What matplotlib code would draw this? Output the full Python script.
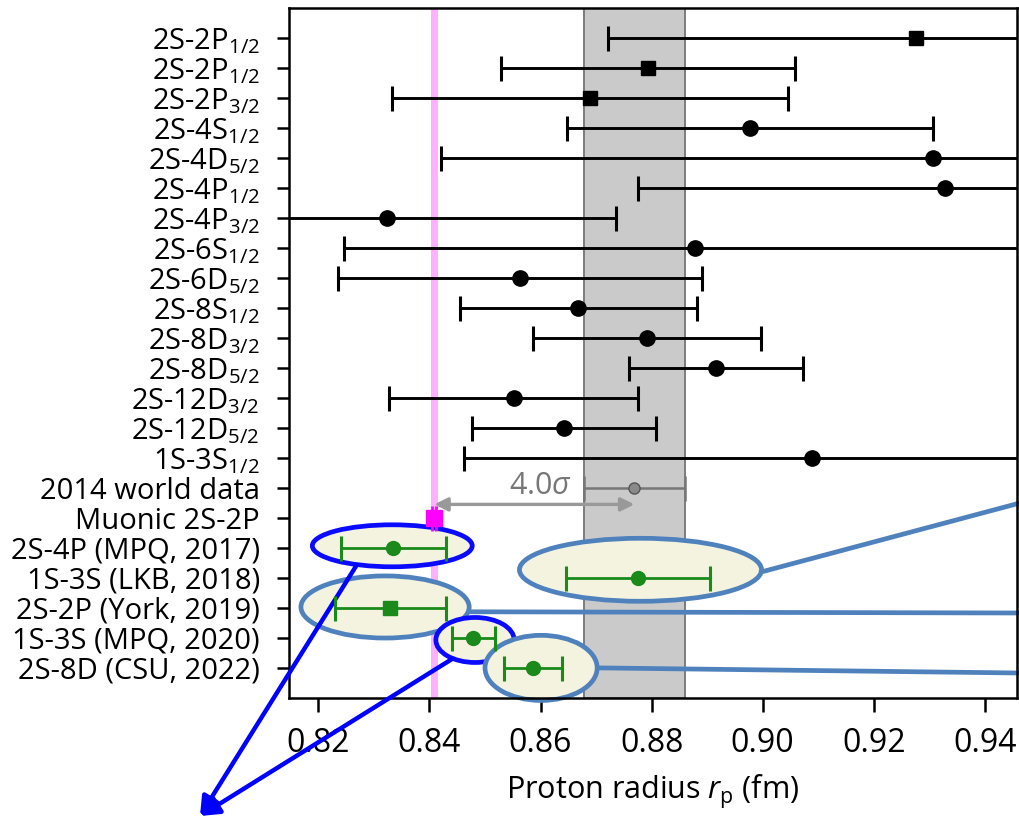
import numpy as np
import matplotlib
matplotlib.use('Agg')
import matplotlib.pyplot as plt
from matplotlib.patches import Ellipse

plt.rcParams['font.family'] = ['Open Sans', 'DejaVu Sans']
plt.rcParams['mathtext.fontset'] = 'custom'
plt.rcParams['mathtext.rm'] = 'Open Sans'
plt.rcParams['mathtext.it'] = 'Open Sans:italic'
plt.rcParams['mathtext.default'] = 'regular'

# row labels, top to bottom
labels = ['2S-2P$_{1/2}$', '2S-2P$_{1/2}$', '2S-2P$_{3/2}$', '2S-4S$_{1/2}$',
          '2S-4D$_{5/2}$', '2S-4P$_{1/2}$', '2S-4P$_{3/2}$', '2S-6S$_{1/2}$',
          '2S-6D$_{5/2}$', '2S-8S$_{1/2}$', '2S-8D$_{3/2}$', '2S-8D$_{5/2}$',
          '2S-12D$_{3/2}$', '2S-12D$_{5/2}$', '1S-3S$_{1/2}$',
          '2014 world data', 'Muonic 2S-2P',
          '2S-4P (MPQ, 2017)', '1S-3S (LKB, 2018)', '2S-2P (York, 2019)',
          '1S-3S (MPQ, 2020)', '2S-8D (CSU, 2022)']

# older hydrogen measurements (black)
old_r = [0.9277, 0.8793, 0.8689, 0.8977, 0.9307, 0.9328, 0.8324, 0.8878,
         0.8563, 0.8668, 0.8792, 0.8916, 0.8552, 0.8642, 0.9089]
old_err = [0.0556, 0.0265, 0.0357, 0.0330, 0.0887, 0.0552, 0.0412, 0.0632,
           0.0327, 0.0213, 0.0205, 0.0156, 0.0224, 0.0166, 0.0626]
old_square = [True, True, True] + [False] * 12

world_r, world_err = 0.8769, 0.0091
muonic_r, muonic_err = 0.84087, 0.00039

# recent measurements (green)
new_r = [0.8335, 0.8775, 0.8329, 0.8479, 0.8587]
new_err = [0.0095, 0.0130, 0.0100, 0.0039, 0.0052]
new_square = [False, False, True, False, False]

# highlight ellipses around the recent points
ell_x = [0.8333, 0.8780, 0.8320, 0.8482, 0.8601]
ell_y = [16.93, 17.73, 18.97, 20.07, 21.0]
ell_w = [0.0288, 0.0436, 0.0303, 0.0141, 0.0202]
ell_h = [1.4, 2.1, 2.07, 1.5, 2.17]
ell_edge = ['#0a0aff', '#4f81bd', '#4f81bd', '#0a0aff', '#4f81bd']

fig = plt.figure(figsize=(10.19, 8.22), dpi=100)
ax = fig.add_axes([0.2836, 0.151, 0.7144, 0.839])

ax.axvspan(world_r - world_err, world_r + world_err, facecolor='#cacaca',
           edgecolor='#7c7c7c', lw=1.4, zorder=0)
ax.axvline(muonic_r, color='#ffb0ff', lw=5, zorder=0.5)

for i in range(len(old_r)):
    ax.errorbar(old_r[i], i, xerr=old_err[i], fmt='s' if old_square[i] else 'o',
                color='k', ms=10 if old_square[i] else 11, capsize=9,
                capthick=2.2, elinewidth=2.1, zorder=3)

ax.errorbar(world_r, 15, xerr=world_err, fmt='o', color='#777777', mfc='#8a8a8a',
            mec='#555555', ms=8, capsize=9, capthick=1.8, elinewidth=1.8, zorder=3)

ax.annotate('', xy=(world_r, 15.55), xytext=(muonic_r, 15.55),
            arrowprops=dict(arrowstyle='<|-|>', color='#999999', lw=2.4,
                            shrinkA=0, shrinkB=0, mutation_scale=20))
ax.text(0.8600, 14.95, '4.0$\\mathit{\\sigma}$', color='#777777',
        fontsize=22, ha='center', va='center')

ax.errorbar(muonic_r, 16, xerr=muonic_err, fmt='s', color='#ff00ff', ms=12,
            capsize=9, capthick=2, elinewidth=2, zorder=3)

for i in range(len(ell_x)):
    e = Ellipse((ell_x[i], ell_y[i]), ell_w[i], ell_h[i], facecolor='#f3f3df',
                edgecolor=ell_edge[i], lw=3.4, zorder=2, clip_on=False)
    ax.add_patch(e)

for i in range(len(new_r)):
    ax.errorbar(new_r[i], 17 + i, xerr=new_err[i], fmt='s' if new_square[i] else 'o',
                color='#1a8a1a', ms=10, capsize=9, capthick=2.2, elinewidth=2,
                zorder=4)

xmax = 0.9458
ax.plot([0.8998, xmax], [17.8, 15.53], color='#4f81bd', lw=3.4, clip_on=False, zorder=2)
ax.plot([0.8472, xmax], [19.13, 19.17], color='#4f81bd', lw=3.4, clip_on=False, zorder=2)
ax.plot([0.8703, xmax], [21.0, 21.17], color='#4f81bd', lw=3.4, clip_on=False, zorder=2)

tip = (200 / 1019, 1 - 816 / 822)
for start in [(0.8269, 17.57), (0.8441, 20.7)]:
    ax.annotate('', xy=tip, xycoords='figure fraction', xytext=start,
                textcoords='data', annotation_clip=False,
                arrowprops=dict(arrowstyle='-|>', color='#0000ff', lw=3.2,
                                mutation_scale=28, shrinkA=0, shrinkB=0))

ax.set_xlim(0.8147, xmax)
ax.set_ylim(22.0, -0.99)
ax.set_yticks(range(len(labels)))
ax.set_yticklabels(labels, fontsize=21)
ax.set_xticks([0.82, 0.84, 0.86, 0.88, 0.90, 0.92, 0.94])
ax.set_xticklabels(['0.82', '0.84', '0.86', '0.88', '0.90', '0.92', '0.94'], fontsize=23)
ax.set_xlabel('Proton radius $\\it{r}_\\mathrm{p}$ (fm)', fontsize=22, labelpad=9)
ax.tick_params(direction='out', length=9, width=1.8)
ax.tick_params(axis='y', pad=12)
ax.tick_params(axis='x', length=10, pad=11)
for s in ax.spines.values():
    s.set_linewidth(1.8)

fig.savefig('out.png', dpi=100)
